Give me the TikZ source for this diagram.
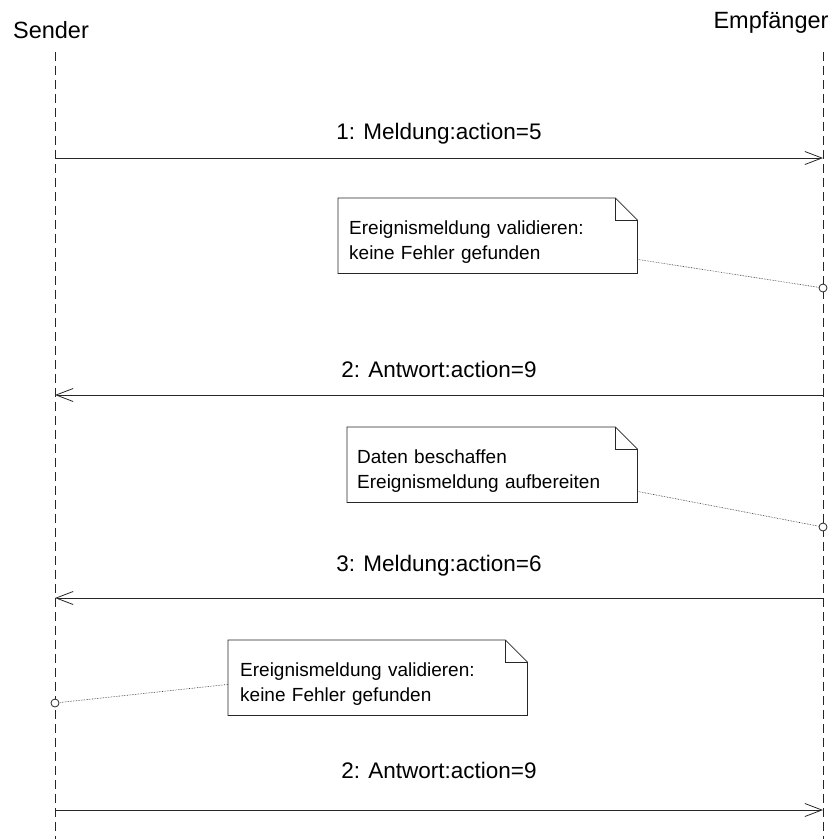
\documentclass[tikz,border=0pt]{standalone}
\usepackage{fontspec}
\setmainfont{Liberation Sans}
\usetikzlibrary{arrows.meta}
\tikzset{
    life-line/.style = {draw=black!85, line width=0.8pt, dash pattern=on 9pt off 5pt},
    msg-arrow/.style = {draw=black!85, line width=0.8pt, -{Straight Barb[length=17pt,width=13pt]}},
    msg-label/.style = {font=\fontsize{22.5}{27}\selectfont, anchor=base, yshift=19pt, inner sep=0pt},
    actor/.style = {font=\fontsize{23.5}{28}\selectfont, inner sep=0pt},
    note-box/.style = {anchor=north west, inner xsep=11pt, inner ysep=0pt, minimum height=75pt, align=left, font=\fontsize{19}{25}\selectfont},
    note-edge/.style = {draw=black!85, line width=0.8pt},
    note-link/.style = {draw=black!85, line width=0.6pt, densely dotted},
    anchor-dot/.style = {circle, draw=black!85, fill=white, line width=0.8pt, inner sep=0pt, minimum size=8pt},
}
\newcommand{\notestrut}{\rule{0pt}{26pt}}

\begin{document}
\begin{tikzpicture}[x=1pt, y=-1pt]
\useasboundingbox (0,0) rectangle (828,839);

% lifelines
\node[actor] (sender) at (51,30) {Sender};
\node[actor] (empf) at (771,22) {Empfänger};
\coordinate (s-top) at (55,52);
\coordinate (s-bot) at (55,839);
\coordinate (e-top) at (823,52);
\coordinate (e-bot) at (823,839);
\draw[life-line] (s-top) -- (s-bot);
\draw[life-line] (e-top) -- (e-bot);

% message points
\coordinate (s1) at (55,158);  \coordinate (e1) at (823,158);
\coordinate (s2) at (55,395);  \coordinate (e2) at (823,395);
\coordinate (s3) at (55,598);  \coordinate (e3) at (823,598);
\coordinate (s4) at (55,810);  \coordinate (e4) at (823,810);

\draw[msg-arrow] (s1) -- node[msg-label] {1: Meldung:action=5} (e1);
\draw[msg-arrow] (e2) -- node[msg-label, yshift=-1pt] {2: Antwort:action=9} (s2);
\draw[msg-arrow] (e3) -- node[msg-label, yshift=8pt] {3: Meldung:action=6} (s3);
\draw[msg-arrow] (s4) -- node[msg-label, yshift=13pt] {2: Antwort:action=9} (e4);

% notes
\node[note-box, text width=277pt, minimum width=299pt] (n1) at (338,198) {\notestrut Ereignismeldung validieren:\\keine Fehler gefunden};
\node[note-box, text width=270pt, minimum width=290pt, inner xsep=10pt] (n2) at (347,427) {\notestrut Daten beschaffen\\Ereignismeldung aufbereiten};
\node[note-box, text width=275pt, minimum width=299pt, inner xsep=12pt] (n3) at (228,640) {\notestrut Ereignismeldung validieren:\\keine Fehler gefunden};

\foreach \n in {n1,n2,n3} {
    \draw[note-edge] (\n.north west) -- ([xshift=-22pt]\n.north east) -- ([yshift=-22pt]\n.north east)
        -- (\n.south east) -- (\n.south west) -- cycle;
    \draw[note-edge] ([xshift=-22pt]\n.north east) |- ([yshift=-22pt]\n.north east);
}

% links to lifelines
\node[anchor-dot] (c1) at (823,288) {};
\node[anchor-dot] (c2) at (823,527) {};
\node[anchor-dot] (c3) at (55,703) {};
\draw[note-link] ([yshift=14pt]n1.south east) -- (c1);
\draw[note-link] ([yshift=11pt]n2.south east) -- (c2);
\draw[note-link] ([yshift=31pt]n3.south west) -- (c3);
\end{tikzpicture}
\end{document}
